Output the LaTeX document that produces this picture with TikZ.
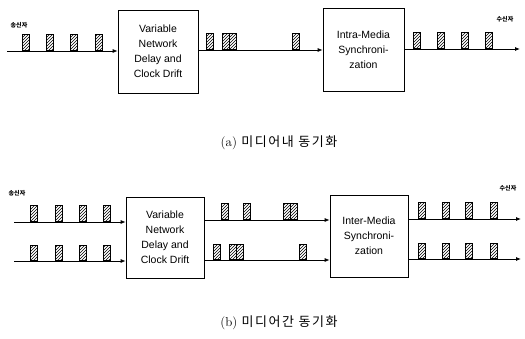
\documentclass[tikz,border=0pt]{standalone}
\usepackage{fontspec}
\newfontfamily\arialf{Liberation Sans}
\newfontfamily\krf{Noto Sans CJK KR}
\newfontfamily\krcap[LetterSpace=12]{Noto Sans CJK KR}
\usetikzlibrary{patterns,arrows.meta}
\tikzset{
  proc/.style={draw, line width=0.7pt, minimum width=80pt, minimum height=83pt, inner sep=0pt,
    align=center, font=\arialf\fontsize{10.5}{15}\selectfont},
  pkt/.style={draw, line width=0.6pt, pattern=north east lines, minimum width=7pt, minimum height=16pt,
    inner sep=0pt, anchor=south},
  pktb/.style={pkt, minimum height=15pt},
  flow/.style={line width=0.8pt, -{Latex[length=5pt,width=4pt]}},
  endlbl/.style={font=\krf\bfseries\fontsize{6}{7}\selectfont},
  captext/.style={font=\fontsize{13}{15}\selectfont}
}
\begin{document}
\begin{tikzpicture}[x=1pt,y=-1pt]
\useasboundingbox (0,0) rectangle (525,339);
% ---------- (a) ----------
\node[endlbl] (sa) at (19,25) {송신자};
\node[endlbl] (ra) at (505,19) {수신자};
\node[proc] (b1) at (158,51.5) {Variable\\Network\\Delay and\\Clock Drift};
\node[proc, minimum width=81pt] (b2) at (363.5,49.5) {Intra-Media\\Synchroni-\\zation};
\coordinate (a0) at (7,51);
\coordinate (a9) at (520,49);
\draw[flow] (a0) -- (a0 -| b1.west);
\draw[flow] (b1.east |- 0,50) -- (b2.west |- 0,50);
\draw[flow] (b2.east |- 0,49) -- (a9);
\foreach \x in {26,50,74,99} \node[pkt] at (\x,51) {};
\node[pkt] at (210,50) {};
\node[pkt] at (226,50) {};
\node[pkt] at (233,50) {};
\node[pkt] at (296,50) {};
\foreach \x in {417,441,465,489} \node[pkt] at (\x,49) {};
\node[captext] (ca) at (279,143) {(a) {\krcap 미디어내 동기화}};
% ---------- (b) ----------
\node[endlbl] (sb) at (17,193) {송신자};
\node[endlbl] (rb) at (508,188) {수신자};
\node[proc, minimum width=78pt, minimum height=81pt] (b3) at (165,237.5) {Variable\\Network\\Delay and\\Clock Drift};
\node[proc, minimum width=78pt, minimum height=82pt] (b4) at (369,236) {Inter-Media\\Synchroni-\\zation};
\coordinate (c0) at (14,222);
\coordinate (d0) at (14,261);
\coordinate (c9) at (521,219);
\coordinate (d9) at (521,259);
\draw[flow] (c0) -- (c0 -| b3.west);
\draw[flow] (d0) -- (d0 -| b3.west);
\draw[flow] (b3.east |- 0,220) -- (b4.west |- 0,220);
\draw[flow] (b3.east |- 0,260) -- (b4.west |- 0,260);
\draw[flow] (b4.east |- 0,219) -- (c9);
\draw[flow] (b4.east |- 0,259) -- (d9);
\foreach \x in {34,59,83,107} {\node[pkt] at (\x,222) {}; \node[pktb] at (\x,261) {};}
\node[pkt] at (225,220) {};
\node[pkt] at (247,220) {};
\node[pkt] at (287,220) {};
\node[pkt] at (294,220) {};
\node[pktb] at (217,260) {};
\node[pktb] at (233,260) {};
\node[pktb] at (240,260) {};
\node[pktb] at (303,260) {};
\foreach \x in {422,446,469,494} {\node[pkt] at (\x,219) {}; \node[pktb] at (\x,259) {};}
\node[captext] (cb) at (279,323) {(b) {\krcap 미디어간 동기화}};
\end{tikzpicture}
\end{document}
